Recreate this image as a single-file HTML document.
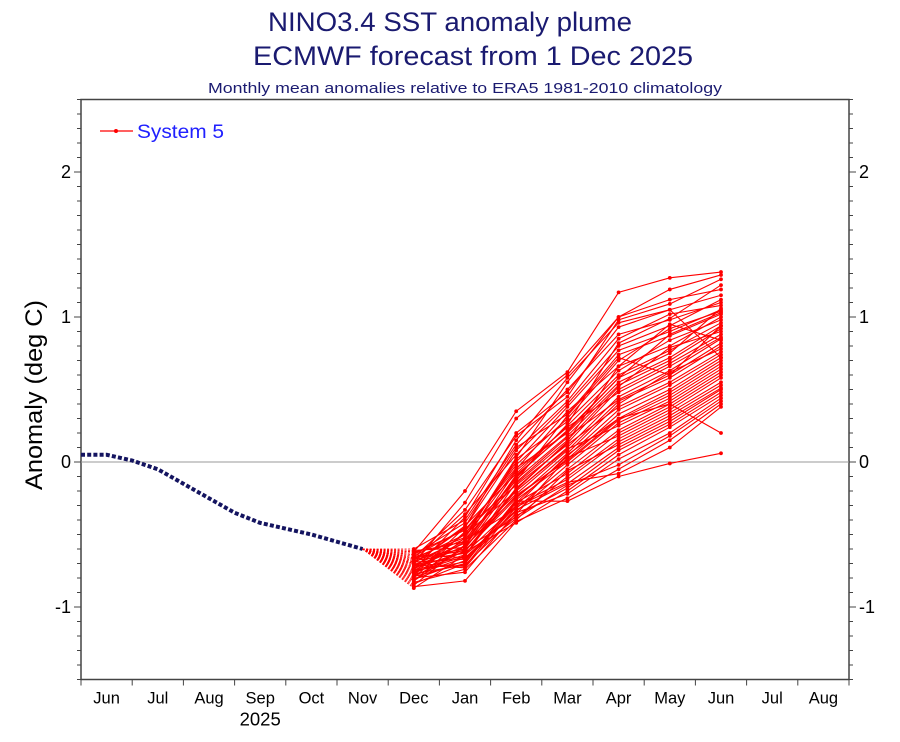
<!DOCTYPE html>
<html><head><meta charset="utf-8"><style>
html,body{margin:0;padding:0;background:#fff;}
svg{display:block;font-family:"Liberation Sans",sans-serif;}
</style></head><body>
<svg id="chart" width="900" height="742" viewBox="0 0 900 742">
<text x="450" y="31" text-anchor="middle" font-size="27" textLength="364" lengthAdjust="spacingAndGlyphs" fill="#1a1a70">NINO3.4 SST anomaly plume</text>
<text x="473" y="65" text-anchor="middle" font-size="27" textLength="440" lengthAdjust="spacingAndGlyphs" fill="#1a1a70">ECMWF forecast from 1 Dec 2025</text>
<text x="465" y="93" text-anchor="middle" font-size="15" textLength="514" lengthAdjust="spacingAndGlyphs" fill="#1a1a70">Monthly mean anomalies relative to ERA5 1981-2010 climatology</text>
<text transform="translate(42,395) rotate(-90)" text-anchor="middle" font-size="24" textLength="190" lengthAdjust="spacingAndGlyphs" fill="#000">Anomaly (deg C)</text>
<g id="axes"></g>
<g id="obs"></g>
<g id="fc"></g>
<g>
<line x1="100" y1="131" x2="133" y2="131" stroke="#f00" stroke-width="1.2"/>
<circle cx="116" cy="131" r="2" fill="#f00"/>
<text x="137" y="138" font-size="19" textLength="87" lengthAdjust="spacingAndGlyphs" fill="#2020ff">System 5</text>
</g>
</svg>
<script>
const monthLabels = ['Jun','Jul','Aug','Sep','Oct','Nov','Dec','Jan','Feb','Mar','Apr','May','Jun','Jul','Aug'];
const yTicks = [-1,0,1,2];
// observed anomaly, positions as fractional month index
const obsT = [0,0.5,1,1.5,2,2.5,3,3.5,4,4.5,5,5.5];
const obsV = [0.05,0.05,0.01,-0.05,-0.15,-0.25,-0.35,-0.42,-0.46,-0.50,-0.55,-0.60];
// forecast months Dec..Jun (index 6..12)
const fcIndex = [6,7,8,9,10,11,12];
const members = [
[-0.62,-0.20,0.35,0.62,1.17,1.27,1.31],
[-0.70,-0.28,0.30,0.60,1.00,1.19,1.29],
[-0.66,-0.33,0.18,0.45,0.98,1.09,1.26],
[-0.74,-0.38,0.20,0.48,0.93,1.05,1.15],
[-0.60,-0.40,0.12,0.50,0.88,0.98,1.10],
[-0.78,-0.45,0.08,0.42,0.85,1.02,1.08],
[-0.68,-0.36,0.05,0.40,0.80,0.94,1.12],
[-0.72,-0.50,0.00,0.38,0.77,0.90,1.05],
[-0.64,-0.42,0.10,0.33,0.74,0.87,1.02],
[-0.80,-0.48,-0.02,0.30,0.70,0.92,1.04],
[-0.66,-0.52,-0.05,0.35,0.66,0.80,1.00],
[-0.75,-0.55,0.02,0.28,0.63,0.84,0.98],
[-0.70,-0.44,-0.08,0.25,0.60,0.77,0.96],
[-0.82,-0.58,-0.10,0.22,0.58,0.75,1.06],
[-0.63,-0.47,-0.04,0.20,0.55,0.72,0.94],
[-0.77,-0.60,-0.12,0.18,0.53,0.70,0.92],
[-0.69,-0.53,-0.15,0.15,0.52,0.79,0.90],
[-0.73,-0.62,-0.18,0.13,0.50,0.68,0.88],
[-0.85,-0.57,-0.06,0.24,0.48,0.66,0.86],
[-0.67,-0.50,-0.20,0.10,0.45,0.63,0.85],
[-0.76,-0.65,-0.14,0.17,0.43,0.60,0.82],
[-0.71,-0.56,-0.22,0.08,0.42,0.58,0.80],
[-0.79,-0.61,-0.25,0.06,0.40,0.62,0.78],
[-0.65,-0.46,-0.16,0.12,0.38,0.55,0.76],
[-0.81,-0.68,-0.28,0.04,0.36,0.53,0.74],
[-0.72,-0.58,-0.24,0.02,0.33,0.50,0.72],
[-0.68,-0.63,-0.30,0.05,0.30,0.48,0.70],
[-0.84,-0.70,-0.26,0.00,0.29,0.46,0.68],
[-0.74,-0.54,-0.32,-0.02,0.27,0.44,0.66],
[-0.61,-0.59,-0.20,0.09,0.25,0.42,0.64],
[-0.78,-0.66,-0.34,-0.05,0.22,0.40,0.62],
[-0.70,-0.72,-0.28,-0.08,0.20,0.38,0.60],
[-0.87,-0.64,-0.36,0.03,0.18,0.36,0.58],
[-0.66,-0.60,-0.38,-0.10,0.16,0.34,0.55],
[-0.75,-0.69,-0.30,-0.12,0.14,0.32,0.53],
[-0.83,-0.74,-0.40,-0.06,0.12,0.30,0.51],
[-0.69,-0.67,-0.33,-0.15,0.10,0.28,0.50],
[-0.77,-0.71,-0.37,-0.18,0.08,0.26,0.48],
[-0.73,-0.62,-0.42,-0.20,0.05,0.24,0.46],
[-0.80,-0.76,-0.35,-0.22,0.02,0.20,0.44],
[-0.64,-0.66,-0.39,-0.16,-0.02,0.18,0.42],
[-0.86,-0.82,-0.41,-0.25,-0.05,0.15,0.40],
[-0.71,-0.73,-0.31,-0.14,-0.08,0.10,0.38],
[-0.79,-0.70,-0.27,-0.27,-0.10,-0.01,0.06],
[-0.67,-0.61,-0.23,0.01,0.30,0.40,0.20],
[-0.75,-0.64,-0.19,0.14,0.66,0.95,0.84],
[-0.62,-0.55,-0.11,0.26,0.82,0.99,1.22],
[-0.82,-0.52,0.03,0.55,1.00,1.12,1.19],
[-0.70,-0.45,0.15,0.58,0.96,1.05,0.72],
[-0.76,-0.49,-0.13,0.32,0.72,0.60,0.94],
[-0.73,-0.58,-0.09,0.21,0.58,0.88,1.03]
];

const X0=81, MW=51.2, Y0=462, PU=145, YMIN=-1.5, YMAX=2.5;
const xT = t => X0 + MW*t;
const xM = i => X0 + MW*(i+0.5);
const yV = v => Y0 - v*PU;
const NS='http://www.w3.org/2000/svg';
function mk(tag, attrs, parent){const e=document.createElementNS(NS,tag);for(const k in attrs)e.setAttribute(k,attrs[k]);parent.appendChild(e);return e;}

const axes=document.getElementById('axes');
const L=X0, R=xT(monthLabels.length), T=yV(YMAX), B=yV(YMIN);
let e;
e=mk('rect',{x:L,y:T,width:R-L,height:B-T,fill:'none',stroke:'#444','stroke-width':1.5},axes);


e=mk('line',{x1:L,y1:yV(0),x2:R,y2:yV(0),stroke:'#999','stroke-width':1},axes);


for(let k=-15;k<=25;k++){
  const v=k/10, y=yV(v), major=(k%10===0);
  const len=major?7:4;
  e=mk('line',{x1:L-len,y1:y,x2:L,y2:y,stroke:'#444','stroke-width':1},axes);
  
  
  e=mk('line',{x1:R,y1:y,x2:R+len,y2:y,stroke:'#444','stroke-width':1},axes);
  
  
}
yTicks.forEach(v=>{
  e=mk('text',{x:L-10,y:yV(v)+6,'text-anchor':'end','font-size':18,fill:'#000'},axes);
  e.textContent=String(v);
  
  
  e=mk('text',{x:R+10,y:yV(v)+6,'text-anchor':'start','font-size':18,fill:'#000'},axes);
  e.textContent=String(v);
  
  
});
for(let i=0;i<=monthLabels.length;i++){
  e=mk('line',{x1:xT(i),y1:B,x2:xT(i),y2:B+6,stroke:'#444','stroke-width':1},axes);
  
  
}
monthLabels.forEach((m,i)=>{
  e=mk('text',{x:xM(i),y:B+24,'text-anchor':'middle','font-size':16.5,fill:'#000'},axes);
  e.textContent=m;
  
  
});
e=mk('text',{x:xT(3.5),y:B+46,'text-anchor':'middle','font-size':18.5,fill:'#000'},axes);
e.textContent='2025';



const obs=document.getElementById('obs');
e=mk('polyline',{points:obsT.map((t,i)=>xT(t)+','+yV(obsV[i])).join(' '),fill:'none',stroke:'#141460','stroke-width':4,'stroke-dasharray':'4 2.2'},obs);



const fc=document.getElementById('fc');
const sx=xT(obsT[obsT.length-1]), sy=yV(obsV[obsV.length-1]);
members.forEach(m=>{
  e=mk('line',{x1:sx,y1:sy,x2:xM(fcIndex[0]),y2:yV(m[0]),stroke:'#f00','stroke-width':0.8,'stroke-dasharray':'2 1.5'},fc);
  
  
});
members.forEach(m=>{
  e=mk('polyline',{points:m.map((v,j)=>xM(fcIndex[j])+','+yV(v)).join(' '),fill:'none',stroke:'#f00','stroke-width':1.1},fc);
  
  
  m.forEach((v,j)=>{
    e=mk('circle',{cx:xM(fcIndex[j]),cy:yV(v),r:1.9,fill:'#f00'},fc);
    
    
  });
});
</script>
</body></html>
